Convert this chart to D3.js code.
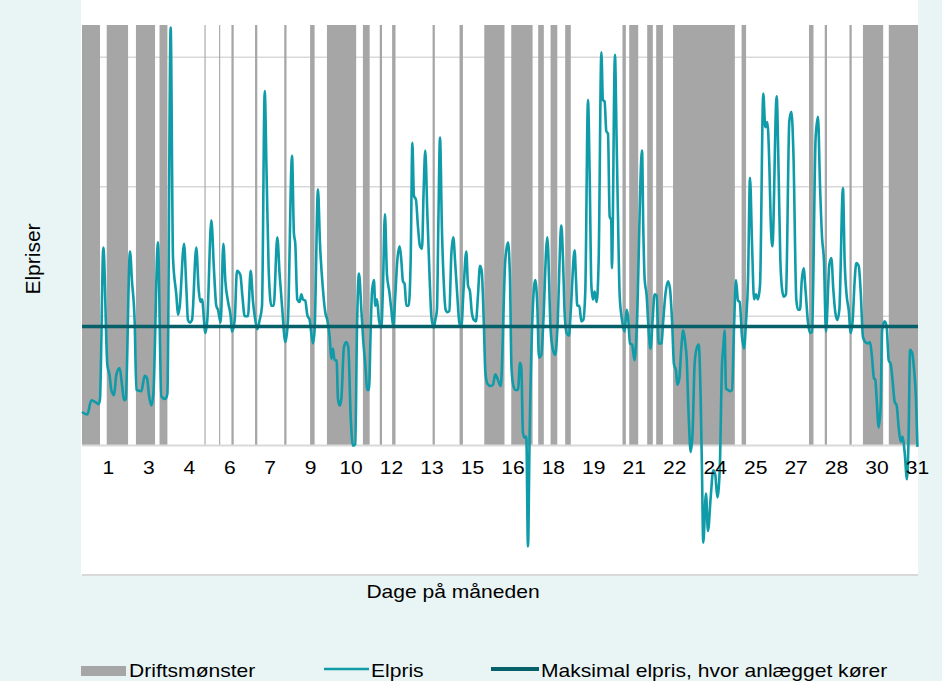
<!DOCTYPE html>
<html>
<head>
<meta charset="utf-8">
<script src="https://cdn.jsdelivr.net/npm/d3@7"></script>
<style>
  body { margin: 0; background: #e9f5f5; }
  svg text { font-family: "Liberation Sans", Arial, sans-serif; fill: #000; }
</style>
</head>
<body>
<svg id="chart" width="942" height="681"></svg>
<script>

// Day labels on the category axis and the hour each one sits on
var dayLabels  = [1, 3, 4, 6, 7, 9, 10, 12, 13, 15, 16, 18, 19, 21, 22, 24, 25, 27, 28, 30, 31];
var labelHours = [23, 59, 95, 131, 167, 203, 239, 275, 311, 347, 383, 419, 455, 491, 527, 563, 599, 635, 671, 707, 743];

// Driftsmønster: hours (of 744) where the plant runs, as start / end
var driftStart = [0, 22, 48, 69, 109, 122, 133, 154, 180, 203, 218, 250, 265, 276, 312, 336,
                  358, 382, 406, 417, 430, 481, 487, 503, 511, 526, 587, 647, 661, 683, 695, 718];
var driftEnd   = [16, 41, 65, 76, 110, 123, 135, 156, 182, 207, 244, 256, 267, 279, 314, 339,
                  376, 401, 411, 423, 435, 484, 495, 508, 517, 581, 591, 651, 663, 685, 713, 744];

// Elpris (hour, price)
var priceHour = [0, 4.7, 8.3, 11.3, 14.8, 16, 19, 22.5, 24.6, 26.1, 28.5, 30.6, 33.5, 35.6, 37.4, 38.9,
  42.7, 44.5, 46.9, 48.4, 52.8, 55.8, 57.9, 59.6, 61.7, 63.5, 67.6, 70.6, 74.2, 76, 78.9, 81,
  84, 85.4, 86.9, 90.8, 92.9, 94.3, 96.1, 97.9, 101.7, 103.8, 105.3, 106.8, 109.8, 111.5, 115.1, 117.5,
  119.5, 121, 123.4, 125.8, 127.6, 130, 132.3, 133.5, 135.9, 137.9, 140.9, 142.7, 144.8, 147.7, 150.1, 152.2,
  153.7, 156, 158.1, 160.2, 162.6, 164.3, 166.1, 168.5, 170.6, 173.8, 175.9, 178, 181, 183.3, 186.9, 188.6,
  189.8, 191.6, 193.7, 195.2, 196.6, 198.7, 200.5, 202.6, 205.5, 207, 210, 211.8, 214.4, 216.5, 218.3, 220.4,
  221.9, 223.3, 224.8, 226.6, 227.8, 229.3, 230.8, 233.1, 235.2, 237, 239.1, 241.1, 243.2, 244.7, 246.5, 248.6,
  250.3, 252.1, 253.9, 255.4, 256.9, 258.1, 259.8, 261, 262.5, 264.3, 266.4, 267.8, 269.6, 271.4, 273.5, 275.3,
  277, 278.8, 280.6, 282.7, 284.2, 285.6, 287.1, 288.6, 290.7, 292.5, 294, 295.4, 297.2, 299, 300.8, 302.6,
  304, 305.5, 307.3, 309.4, 310.9, 313, 314.4, 315.9, 317.1, 318.6, 320.4, 321.8, 323.6, 325.1, 326.9, 328.7,
  330.4, 332.2, 334, 335.8, 337.6, 339.6, 342, 343.5, 345.3, 346.9, 348.8, 350.6, 352.4, 354.2, 355.7, 357.7,
  358.9, 360.7, 363.7, 365.7, 367.8, 369.6, 372.6, 376.7, 379.1, 380.9, 382.1, 383.5, 385.6, 388, 389.8, 391,
  392.4, 393.9, 395.4, 396.9, 398.4, 401.3, 403.4, 405.2, 406.7, 408.8, 410.2, 414.1, 417.1, 419.1, 421.2, 423,
  426.6, 428.1, 429.5, 431.3, 433.4, 434.9, 438.4, 439.6, 440.8, 442.6, 444.4, 446.1, 447.9, 450.3, 451.8, 453.3,
  454.7, 456.2, 458, 459.8, 462.2, 463.6, 465.1, 466.6, 468.1, 469.6, 471, 471.6, 474.3, 475.8, 477, 478.5,
  480.6, 482.9, 484.7, 485.9, 487.7, 489.5, 491.8, 493.6, 498.4, 499.5, 500.7, 502.5, 504.3, 506, 507.8, 509.6,
  511.4, 513.2, 515.6, 517.3, 519.1, 521.5, 523.3, 525.1, 526.8, 528.6, 529.8, 531.6, 533.4, 535.1, 536.9, 538.1,
  539.9, 541.7, 543.4, 545.2, 547, 548.8, 550.6, 551.7, 552.9, 555.3, 557.1, 559.5, 561.8, 563.5, 565.4, 567.5,
  569.6, 570.7, 571.9, 573.1, 574.9, 576.7, 578.5, 580.2, 582, 583.8, 585.3, 587.4, 589.1, 590.9, 592.7, 594.5,
  596.3, 598.1, 599.8, 601.5, 603.4, 606.3, 608.1, 609.9, 611.7, 612.9, 614.4, 618.2, 620, 621.5, 623.3, 624.7,
  626.5, 629.5, 631.3, 633.1, 635.7, 637.2, 639, 640.5, 642.2, 644, 646.1, 647.9, 649.7, 652.9, 655, 656.8,
  658.6, 660.3, 662.1, 665.1, 666.9, 668.6, 670.4, 672.2, 674, 677.2, 678.7, 680.5, 682.3, 684.1, 685.9, 687.6,
  689.1, 691.2, 693, 695, 697.1, 699.5, 701.3, 703.1, 704.8, 706, 707.2, 709, 710.8, 712, 714.3, 716.1,
  717.9, 719.7, 721.4, 723.2, 725, 726.8, 728.6, 730.3, 732.1, 734.2, 735.7, 736.9, 738.7, 740.4, 742.2, 743.5];
var price = [26, 24, 35, 34, 32, 36, 153, 63, 54, 43, 39, 55, 60, 47, 35, 36,
  150, 127, 95, 43, 42, 54, 52, 39, 31, 40, 157, 38, 36, 40, 323, 145,
  116, 101, 107, 156, 121, 97, 95, 97, 153, 121, 111, 113, 87, 97, 174, 135,
  108, 105, 95, 156, 127, 111, 100, 88, 97, 135, 132, 116, 100, 100, 135, 111,
  100, 90, 97, 108, 274, 209, 137, 108, 108, 161, 132, 108, 80, 97, 224, 164,
  156, 113, 111, 117, 113, 112, 101, 97, 79, 89, 198, 156, 121, 103, 97, 84,
  67, 75, 66, 66, 36, 31, 36, 76, 80, 76, 23, 0, 1, 89, 133, 105,
  81, 63, 43, 43, 89, 119, 128, 108, 113, 97, 91, 121, 179, 132, 119, 105,
  92, 116, 143, 154, 143, 127, 125, 108, 108, 143, 234, 193, 190, 169, 154, 152,
  196, 228, 180, 129, 100, 91, 97, 105, 169, 238, 164, 129, 105, 103, 104, 148,
  161, 140, 116, 95, 92, 121, 150, 124, 119, 103, 97, 96, 116, 139, 135, 92,
  58, 48, 46, 47, 55, 52, 46, 143, 157, 129, 63, 48, 43, 43, 64, 60,
  10, 6, 7, -78, 10, 108, 128, 108, 68, 70, 89, 161, 89, 74, 70, 89,
  170, 143, 103, 87, 85, 103, 151, 129, 108, 108, 96, 97, 119, 267, 209, 124,
  113, 119, 111, 143, 304, 267, 266, 243, 241, 177, 174, 137, 302, 235, 177, 116,
  97, 88, 105, 100, 79, 78, 66, 89, 228, 169, 129, 116, 89, 75, 97, 117,
  116, 79, 79, 97, 116, 127, 121, 97, 63, 58, 47, 52, 76, 89, 79, 68,
  23, -5, 10, 63, 75, 78, 36, -17, -75, -37, -66, -40, -19, -22, -40, -20,
  63, 76, 89, 44, 43, 42, 43, 89, 128, 112, 111, 84, 75, 95, 127, 207,
  156, 113, 117, 113, 124, 272, 246, 250, 217, 174, 154, 270, 209, 143, 119, 115,
  117, 251, 258, 227, 113, 105, 105, 127, 137, 119, 95, 87, 88, 238, 254, 201,
  161, 143, 88, 140, 145, 121, 103, 97, 105, 199, 143, 116, 105, 87, 97, 127,
  141, 139, 119, 84, 80, 79, 80, 68, 52, 51, 36, 14, 31, 89, 96, 92,
  66, 63, 50, 34, 31, 14, 3, 7, -5, -26, 10, 74, 72, 60, 36, -1];

var maxPrice = 92;
var gridValues = [100, 200, 300];
var legendLabels = ["Driftsmønster", "Elpris", "Maksimal elpris, hvor anlægget kører"];

var colors = {
	drift: '#a6a6a6',
	elpris: '#0f9ba8',
	maks: '#05606a',
	grid: '#d9d9d9'
};

var svg = d3.select('#chart');
var plotLeft = 82, plotRight = 918, plotTop = 25, plotBottom = 575;

var x = d3.scaleLinear().domain([0, 744]).range([plotLeft, plotRight]);
var y = d3.scaleLinear().domain([-100, 325]).range([plotBottom, plotTop]);

// stretched text, the picture is a bit wider than tall
function label(g, px, py, str, anchor) {
	return g.append('text')
		.attr('transform', 'translate(' + px + ',' + py + ') scale(1.17,1)')
		.attr('text-anchor', anchor)
		.style('font-size', '18px')
		.text(str);
}

// plot area
svg.append('rect')
	.attr('x', plotLeft - 1)
	.attr('y', 0)
	.attr('width', plotRight - plotLeft + 1)
	.attr('height', plotBottom)
	.attr('fill', '#ffffff');

svg.append('g')
	.selectAll('line')
	.data(gridValues)
	.enter()
	.append('line')
	.attr('x1', plotLeft)
	.attr('x2', plotRight)
	.attr('y1', function(d) { return y(d); })
	.attr('y2', function(d) { return y(d); })
	.attr('stroke', colors.grid)
	.attr('stroke-width', 1.5);

// Driftsmønster columns run up to the axis maximum
svg.append('g')
	.selectAll('rect')
	.data(driftStart)
	.enter()
	.append('rect')
	.attr('x', function(d) { return x(d); })
	.attr('width', function(d, i) { return x(driftEnd[i]) - x(d); })
	.attr('y', y(325))
	.attr('height', y(0) - y(325))
	.attr('fill', colors.drift);

// zero line and bottom edge
[0, -100].forEach(function(v) {
	svg.append('line')
		.attr('x1', plotLeft)
		.attr('x2', plotRight)
		.attr('y1', y(v))
		.attr('y2', y(v))
		.attr('stroke', colors.grid)
		.attr('stroke-width', 2);
});

var priceLine = d3.line()
	.curve(d3.curveMonotoneX)
	.x(function(d) { return x(d); })
	.y(function(d, i) { return y(price[i]); });

svg.append('path')
	.datum(priceHour)
	.attr('d', priceLine)
	.attr('fill', 'none')
	.attr('stroke', colors.elpris)
	.attr('stroke-width', 2.6)
	.attr('stroke-linejoin', 'round');

svg.append('line')
	.attr('x1', plotLeft)
	.attr('x2', plotRight)
	.attr('y1', y(maxPrice))
	.attr('y2', y(maxPrice))
	.attr('stroke', colors.maks)
	.attr('stroke-width', 3.5);

// category axis labels
var ticks = svg.append('g');
dayLabels.forEach(function(d, i) {
	label(ticks, x(labelHours[i] + 0.5), 474, d, 'middle');
});

label(svg, 453, 598, 'Dage på måneden', 'middle');

svg.append('text')
	.attr('transform', 'translate(40,259) rotate(-90)')
	.attr('text-anchor', 'middle')
	.style('font-size', '21px')
	.text('Elpriser');

// legend
var legend = svg.append('g');
legend.append('rect')
	.attr('x', 81).attr('y', 666)
	.attr('width', 45).attr('height', 10)
	.attr('fill', colors.drift);
label(legend, 129, 677, legendLabels[0], 'start');

legend.append('line')
	.attr('x1', 324).attr('x2', 369)
	.attr('y1', 669).attr('y2', 669)
	.attr('stroke', colors.elpris)
	.attr('stroke-width', 2.5);
label(legend, 371, 677, legendLabels[1], 'start');

legend.append('line')
	.attr('x1', 491).attr('x2', 539)
	.attr('y1', 669).attr('y2', 669)
	.attr('stroke', colors.maks)
	.attr('stroke-width', 4);
label(legend, 541, 677, legendLabels[2], 'start');

</script>
</body>
</html>
